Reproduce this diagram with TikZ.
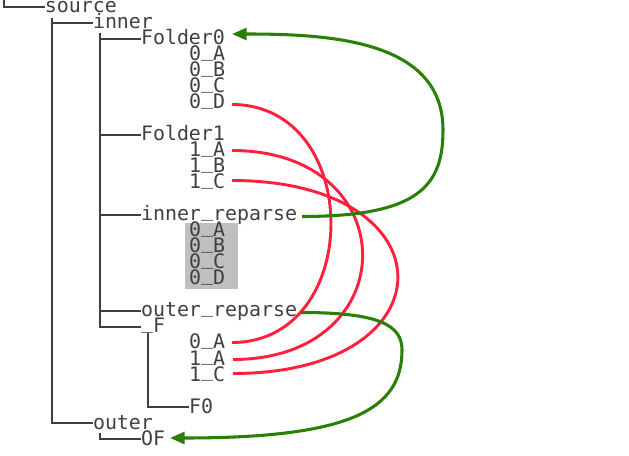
\documentclass[tikz,border=0pt]{standalone}
\usepackage{fontspec}
\setmonofont{DejaVu Sans Mono}
\usetikzlibrary{calc,arrows.meta}
\definecolor{txtgray}{RGB}{64,64,64}
\definecolor{linkred}{RGB}{255,32,64}
\definecolor{linkgreen}{RGB}{42,128,4}
\definecolor{boxgray}{RGB}{191,191,191}
\newcommand\usc{\raisebox{3.2pt}{\_}}
\begin{document}
\begin{tikzpicture}[x=0.75pt,y=-0.75pt,
  txt/.style={anchor=base west,inner sep=0pt,outer sep=0pt,text=txtgray,
    font=\ttfamily\fontsize{14.95pt}{16pt}\selectfont},
  treeline/.style={draw=txtgray,line width=2pt},
  redlink/.style={draw=linkred,line width=2.2pt},
  greenlink/.style={draw=linkgreen,line width=2.3pt,-{Triangle[length=11pt,width=9pt]}}]
\useasboundingbox (0,0) rectangle (629,456);
% highlighted block
\fill[boxgray] (185,223) rectangle (238,289);
% texts
\node[txt] (source) at (45,13) {source};
\node[txt] (inner) at (93,29) {inner};
\node[txt] (folder0) at (141,45) {Folder0};
\node[txt] (fa) at (189,61) {0\usc A};
\node[txt] (fb) at (189,77) {0\usc B};
\node[txt] (fc) at (189,93) {0\usc C};
\node[txt] (fd) at (189,109) {0\usc D};
\node[txt] (folder1) at (141,141) {Folder1};
\node[txt] (ga) at (189,157) {1\usc A};
\node[txt] (gb) at (189,173) {1\usc B};
\node[txt] (gc) at (189,189) {1\usc C};
\node[txt] (innerrep) at (141,221) {inner\usc reparse};
\node[txt] (ha) at (189,237) {0\usc A};
\node[txt] (hb) at (189,253) {0\usc B};
\node[txt] (hc) at (189,269) {0\usc C};
\node[txt] (hd) at (189,285) {0\usc D};
\node[txt] (outerrep) at (141,317) {outer\usc reparse};
\node[txt] (uf) at (141,333) {\usc F};
\node[txt] (ka) at (189,349) {0\usc A};
\node[txt] (kb) at (189,365) {1\usc A};
\node[txt] (kc) at (189,381) {1\usc C};
\node[txt] (fzero) at (189,413) {F0};
\node[txt] (outer) at (93,429) {outer};
\node[txt] (of) at (141,445) {OF};
% tree lines
\coordinate (top) at (4,0);
\draw[treeline] (top) |- ($(source.base west)+(0,-6)$);
\draw[treeline] ($(source.base west)+(7,5)$) |- ($(outer.base west)+(0,-6)$);
\draw[treeline] ($(source.base west)+(7,5)$) |- ($(inner.base west)+(0,-6)$);
\draw[treeline] ($(inner.base west)+(7,4)$) |- ($(uf.base west)+(0,-6)$);
\draw[treeline] ($(inner.base west)+(7,4)$) |- ($(folder0.base west)+(0,-6)$);
\draw[treeline] ($(inner.base west)+(7,4)$) |- ($(folder1.base west)+(0,-6)$);
\draw[treeline] ($(inner.base west)+(7,4)$) |- ($(innerrep.base west)+(0,-6)$);
\draw[treeline] ($(inner.base west)+(7,4)$) |- ($(outerrep.base west)+(0,-6)$);
\draw[treeline] ($(uf.base west)+(7,0)$) |- ($(fzero.base west)+(0,-6)$);
\draw[treeline] ($(outer.base west)+(7,4)$) |- ($(of.base west)+(0,-6)$);
% red links
\draw[redlink] ($(fd.base east)+(7,-4.5)$) .. controls +(132,0) and +(132,0) .. ($(ka.base east)+(7,-6.5)$);
\draw[redlink] ($(ga.base east)+(7,-6.5)$) .. controls +(174,0) and +(173,0) .. ($(kb.base east)+(8,-5.5)$);
\draw[redlink] ($(gc.base east)+(7,-8.5)$) .. controls +(221,0) and +(220,0) .. ($(kc.base east)+(8,-7.5)$);
% green links
\coordinate (gmid) at (443,130);
\coordinate (hmid) at (402,350);
\draw[greenlink] ($(innerrep.base east)+(5,-4.5)$) .. controls +(118,0) and +(0,55) .. (gmid)
  .. controls +(0,-90) and +(98,0) .. ($(folder0.base east)+(7,-11)$);
\draw[greenlink] ($(outerrep.base east)+(4,-4.5)$) .. controls +(78,0) and +(0,-25) .. (hmid)
  .. controls +(0,60) and +(180,0) .. ($(of.base east)+(5,-7)$);
\end{tikzpicture}
\end{document}
